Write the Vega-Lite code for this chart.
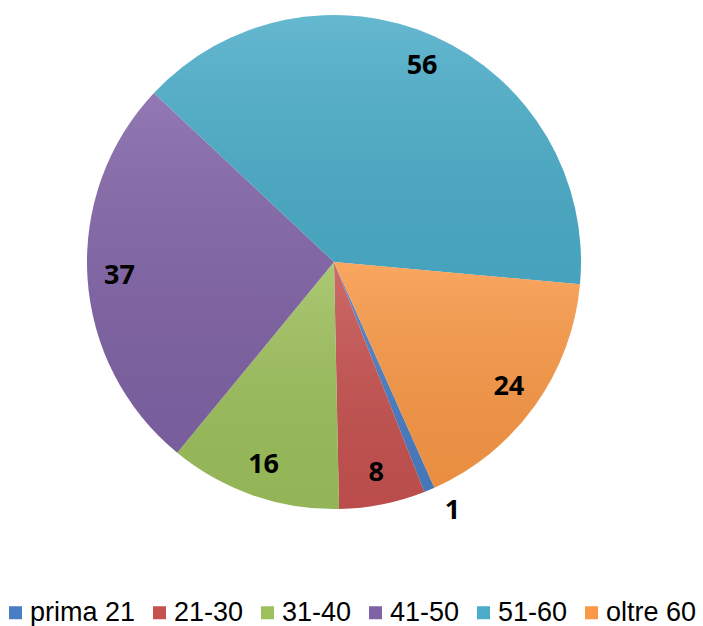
{
  "$schema": "https://vega.github.io/schema/vega-lite/v6.json",
  "width": 668,
  "height": 524,
  "padding": 0,
  "background": "white",
  "config": {"view": {"stroke": null}},
  "data": {
    "values": [
      {"k": "prima 21", "v": 1, "o": 1},
      {"k": "21-30", "v": 8, "o": 2},
      {"k": "31-40", "v": 16, "o": 3},
      {"k": "41-50", "v": 37, "o": 4},
      {"k": "51-60", "v": 56, "o": 5},
      {"k": "oltre 60", "v": 24, "o": 6}
    ]
  },
  "encoding": {
    "theta": {"field": "v", "type": "quantitative", "stack": true, "scale": {"range": [2.723, 9.0062]}},
    "order": {"field": "o", "type": "quantitative"}
  },
  "layer": [
    {
      "mark": {"type": "arc", "outerRadius": 247, "stroke": null},
      "encoding": {
        "color": {
          "field": "k",
          "type": "nominal",
          "sort": ["prima 21", "21-30", "31-40", "41-50", "51-60", "oltre 60"],
          "scale": {
            "domain": ["prima 21", "21-30", "31-40", "41-50", "51-60", "oltre 60"],
            "range": ["#4A7EC4", "#C65250", "#9DC05C", "#8063A6", "#4BADC9", "#F99846"]
          },
          "legend": {
            "title": null,
            "orient": "none",
            "direction": "horizontal",
            "legendX": 2,
            "legendY": 599,
            "padding": 0,
            "symbolType": "square",
            "symbolSize": 169,
            "symbolStrokeWidth": 0,
            "labelFont": "Liberation Sans",
            "labelFontSize": 27,
            "labelColor": "#000000",
            "labelOffset": 1,
            "columnPadding": 10,
            "labelLimit": 300
          }
        }
      }
    },
    {
      "mark": {
        "type": "arc",
        "outerRadius": 247,
        "stroke": null,
        "fill": {
          "gradient": "linear",
          "x1": 0, "y1": 0, "x2": 0, "y2": 1,
          "stops": [
            {"offset": 0, "color": "rgba(255,255,255,0.14)"},
            {"offset": 1, "color": "rgba(0,0,0,0.06)"}
          ]
        }
      },
      "encoding": {"detail": {"field": "k", "type": "nominal"}}
    },
    {
      "mark": {
        "type": "text",
        "font": "Open Sans",
        "fontWeight": "bold",
        "fontSize": 27,
        "radius": {"expr": "datum.v == 1 ? 276 : 215"},
        "dx": {"expr": "datum.v == 1 ? 12 : 0"},
        "dy": {"expr": "datum.v == 1 ? -6 : 0"},
        "align": "center",
        "baseline": "middle"
      },
      "encoding": {
        "detail": {"field": "k", "type": "nominal"},
        "text": {"field": "v", "type": "quantitative"},
        "color": {"value": "#000000"}
      }
    }
  ]
}
